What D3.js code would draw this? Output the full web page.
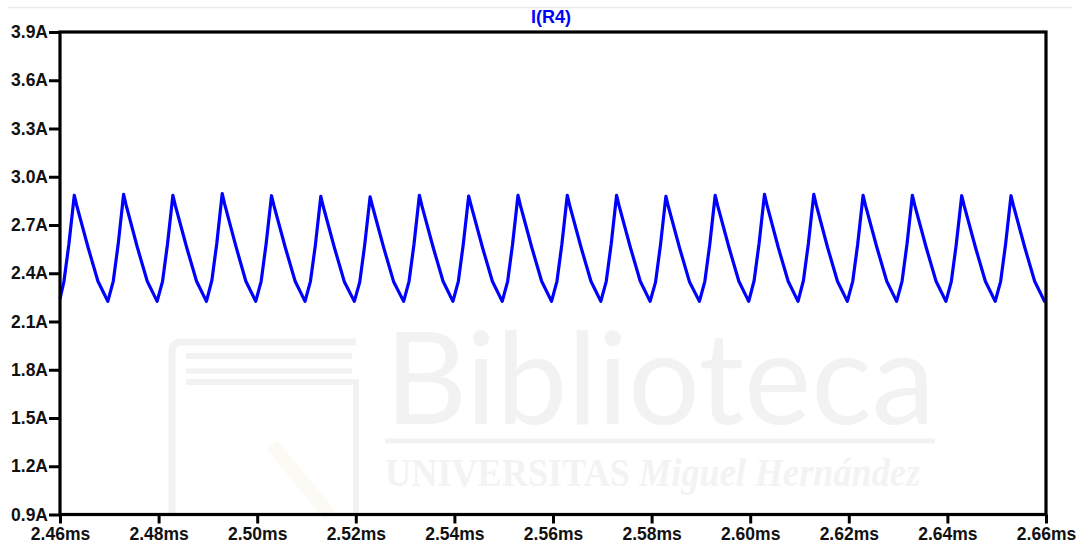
<!DOCTYPE html>
<html>
<head>
<meta charset="utf-8">
<script src="https://cdn.jsdelivr.net/npm/d3@7"></script>
<style>
  html, body { margin: 0; padding: 0; background: #ffffff; }
  svg { display: block; }
  .tick text { font-family: "Liberation Sans", Arial, sans-serif; font-weight: bold; font-size: 17.5px; fill: #111; }
</style>
</head>
<body>
<svg id="chart" width="1080" height="548"></svg>
<script>
// Transient current through R4 (ms, A)
const traceName = "I(R4)";

const timeMs = [
  2.4600, 2.4608, 2.4618, 2.4629, 2.4634, 2.4657, 2.4677, 2.4697,
  2.4708, 2.4718, 2.4729, 2.4734, 2.4757, 2.4777, 2.4797,
  2.4808, 2.4818, 2.4829, 2.4834, 2.4857, 2.4877, 2.4897,
  2.4908, 2.4918, 2.4929, 2.4934, 2.4957, 2.4977, 2.4997,
  2.5008, 2.5018, 2.5029, 2.5034, 2.5057, 2.5077, 2.5097,
  2.5108, 2.5118, 2.5129, 2.5134, 2.5157, 2.5177, 2.5197,
  2.5208, 2.5218, 2.5229, 2.5234, 2.5257, 2.5277, 2.5297,
  2.5308, 2.5318, 2.5329, 2.5334, 2.5357, 2.5377, 2.5397,
  2.5408, 2.5418, 2.5429, 2.5434, 2.5457, 2.5477, 2.5497,
  2.5508, 2.5518, 2.5529, 2.5534, 2.5557, 2.5577, 2.5597,
  2.5608, 2.5618, 2.5629, 2.5634, 2.5657, 2.5677, 2.5697,
  2.5708, 2.5718, 2.5729, 2.5734, 2.5757, 2.5777, 2.5797,
  2.5808, 2.5818, 2.5829, 2.5834, 2.5857, 2.5877, 2.5897,
  2.5908, 2.5918, 2.5929, 2.5934, 2.5957, 2.5977, 2.5997,
  2.6008, 2.6018, 2.6029, 2.6034, 2.6057, 2.6077, 2.6097,
  2.6108, 2.6118, 2.6129, 2.6134, 2.6157, 2.6177, 2.6197,
  2.6208, 2.6218, 2.6229, 2.6234, 2.6257, 2.6277, 2.6297,
  2.6308, 2.6318, 2.6329, 2.6334, 2.6357, 2.6377, 2.6397,
  2.6408, 2.6418, 2.6429, 2.6434, 2.6457, 2.6477, 2.6497,
  2.6508, 2.6518, 2.6529, 2.6534, 2.6557, 2.6577, 2.6597,
  2.6600
];

const currentA = [
  2.240, 2.350, 2.580, 2.885, 2.820, 2.560, 2.350, 2.225,
  2.350, 2.580, 2.890, 2.825, 2.560, 2.350, 2.225,
  2.350, 2.580, 2.885, 2.820, 2.560, 2.350, 2.225,
  2.355, 2.585, 2.895, 2.830, 2.565, 2.350, 2.225,
  2.350, 2.580, 2.882, 2.820, 2.560, 2.350, 2.225,
  2.350, 2.575, 2.878, 2.815, 2.555, 2.345, 2.225,
  2.345, 2.575, 2.875, 2.815, 2.555, 2.345, 2.225,
  2.350, 2.580, 2.885, 2.820, 2.560, 2.350, 2.225,
  2.350, 2.580, 2.880, 2.820, 2.560, 2.350, 2.225,
  2.350, 2.580, 2.885, 2.820, 2.560, 2.350, 2.225,
  2.350, 2.580, 2.885, 2.820, 2.560, 2.350, 2.225,
  2.350, 2.580, 2.885, 2.820, 2.560, 2.350, 2.225,
  2.345, 2.575, 2.878, 2.815, 2.555, 2.345, 2.225,
  2.350, 2.580, 2.885, 2.820, 2.560, 2.350, 2.225,
  2.355, 2.585, 2.890, 2.825, 2.560, 2.350, 2.225,
  2.355, 2.585, 2.890, 2.825, 2.560, 2.350, 2.225,
  2.350, 2.580, 2.885, 2.820, 2.560, 2.350, 2.225,
  2.350, 2.580, 2.885, 2.820, 2.560, 2.350, 2.225,
  2.350, 2.580, 2.882, 2.820, 2.560, 2.350, 2.225,
  2.350, 2.580, 2.882, 2.820, 2.560, 2.350, 2.225,
  2.235
];

const xTickValues = [2.46, 2.48, 2.50, 2.52, 2.54, 2.56, 2.58, 2.60, 2.62, 2.64, 2.66];
const xTickLabels = ["2.46ms", "2.48ms", "2.50ms", "2.52ms", "2.54ms", "2.56ms", "2.58ms", "2.60ms", "2.62ms", "2.64ms", "2.66ms"];
const yTickValues = [0.9, 1.2, 1.5, 1.8, 2.1, 2.4, 2.7, 3.0, 3.3, 3.6, 3.9];
const yTickLabels = ["0.9A", "1.2A", "1.5A", "1.8A", "2.1A", "2.4A", "2.7A", "3.0A", "3.3A", "3.6A", "3.9A"];

const svg = d3.select("#chart");
const plot = { left: 60, right: 1046, top: 32, bottom: 514.5 };

const x = d3.scaleLinear().domain([2.46, 2.66]).range([plot.left, plot.right]);
const y = d3.scaleLinear().domain([0.9, 3.9]).range([plot.bottom, plot.top]);

// thin separator above the pane
svg.append("line")
  .attr("x1", 8).attr("x2", 1072).attr("y1", 7.5).attr("y2", 7.5)
  .attr("stroke", "#ebebeb").attr("stroke-width", 1.5);

// faint library watermark behind the pane
const wmColor = "#f2f2f2";
const wm = svg.append("g").attr("fill", "none").attr("stroke", wmColor);
wm.append("path")
  .attr("d", "M172,515 L172,352 Q172,342 182,342 L356,342")
  .attr("stroke-width", 7);
wm.append("line").attr("x1", 186).attr("x2", 352).attr("y1", 356).attr("y2", 356).attr("stroke-width", 6);
wm.append("line").attr("x1", 186).attr("x2", 352).attr("y1", 371).attr("y2", 371).attr("stroke-width", 5);
wm.append("path").attr("d", "M186,382 L356,382 L356,515").attr("stroke-width", 6);
wm.append("path").attr("d", "M272,445 L330,515").attr("stroke", "#fcfaf4").attr("stroke-width", 14);
wm.append("line").attr("x1", 385).attr("x2", 935).attr("y1", 441).attr("y2", 441).attr("stroke-width", 5);
svg.append("text")
  .attr("x", 385).attr("y", 424)
  .attr("textLength", 550).attr("lengthAdjust", "spacingAndGlyphs")
  .style("font-family", "Lato, 'Open Sans', sans-serif").style("font-size", "128px").style("font-weight", 400)
  .attr("fill", wmColor)
  .text("Biblioteca");
svg.append("text")
  .attr("x", 385).attr("y", 486)
  .attr("textLength", 535).attr("lengthAdjust", "spacingAndGlyphs")
  .style("font-family", "'Liberation Serif', serif").style("font-size", "40px")
  .attr("fill", "#f3f3f3")
  .call(t => {
    t.append("tspan").style("font-weight", "bold").text("UNIVERSITAS ");
    t.append("tspan").style("font-style", "italic").style("font-weight", "bold").text("Miguel Hernández");
  });

// axes
const yAxis = d3.axisLeft(y)
  .tickValues(yTickValues)
  .tickFormat((d, i) => yTickLabels[i])
  .tickSize(11).tickSizeOuter(0).tickPadding(1);
const xAxis = d3.axisBottom(x)
  .tickValues(xTickValues)
  .tickFormat((d, i) => xTickLabels[i])
  .tickSize(9).tickSizeOuter(0).tickPadding(4);

const gy = svg.append("g").attr("transform", `translate(${plot.left},0)`).call(yAxis);
const gx = svg.append("g").attr("transform", `translate(0,${plot.bottom})`).call(xAxis);
[gx, gy].forEach(g => {
  g.select(".domain").remove();
  g.selectAll(".tick line").attr("stroke", "#000").attr("stroke-width", 3);
});

// the trace
const points = timeMs.map((t, i) => [t, currentA[i]]);
svg.append("path")
  .datum(points)
  .attr("fill", "none")
  .attr("stroke", "#0000ff")
  .attr("stroke-width", 3.2)
  .attr("stroke-linejoin", "round")
  .attr("d", d3.line().x(d => x(d[0])).y(d => y(d[1])));

// pane frame
svg.append("rect")
  .attr("x", plot.left).attr("y", plot.top)
  .attr("width", plot.right - plot.left).attr("height", plot.bottom - plot.top)
  .attr("fill", "none").attr("stroke", "#000").attr("stroke-width", 3.2);

// trace title
svg.append("text")
  .attr("x", 551).attr("y", 23)
  .attr("text-anchor", "middle")
  .style("font-family", "'Liberation Sans', Arial, sans-serif").style("font-weight", "bold").style("font-size", "18px")
  .attr("fill", "#0000ff")
  .text(traceName);
</script>
</body>
</html>
